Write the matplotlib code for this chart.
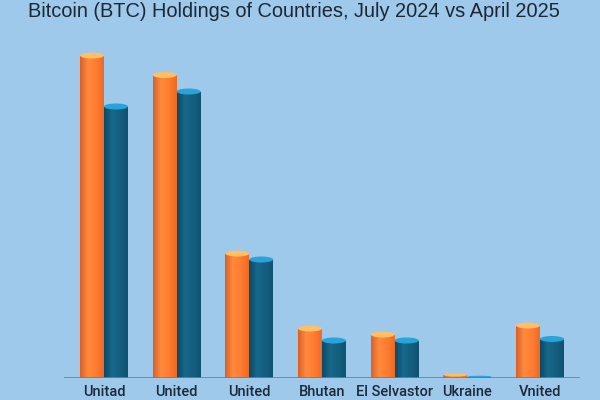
import numpy as np
import matplotlib
matplotlib.use("Agg")
import matplotlib.pyplot as plt
from matplotlib.patches import Ellipse
from matplotlib.colors import LinearSegmentedColormap

# ---- data (thousand BTC) ----
categories = ["Unitad", "United", "United", "Bhutan",
              "El Selvastor", "Ukraine", "Vnited"]
jul_2024 = [215, 202, 83, 33, 29, 2, 35]
apr_2025 = [181, 191, 79, 25, 25, 1, 26]
title = "Bitcoin (BTC) Holdings of Countries, July 2024 vs April 2025"

BG = "#9ec9eb"
fig = plt.figure(figsize=(6, 4), dpi=100, facecolor=BG)
ax = fig.add_axes([64 / 600, 22 / 400, 516 / 600, 348 / 400])
ax.set_facecolor(BG)

x = np.arange(len(categories))
w = 0.33

orange_cmap = LinearSegmentedColormap.from_list(
    "o", ["#d9612a", "#ff8a3c", "#ff7d30", "#ee6a26"])
teal_cmap = LinearSegmentedColormap.from_list(
    "t", ["#0d4a66", "#17698a", "#145f7f", "#0f5370"])

grad = np.linspace(0, 1, 64).reshape(1, -1)


def draw_bars(xs, vals, cmap, base, cap):
    bars = ax.bar(xs, vals, width=w, color=base, zorder=2, linewidth=0)
    for b in bars:
        x0, h, bw = b.get_x(), b.get_height(), b.get_width()
        im = ax.imshow(grad, extent=[x0, x0 + bw, 0, h], aspect="auto",
                       cmap=cmap, zorder=3, interpolation="bicubic")
        im.set_clip_path(b)
        capH = min(4.0, max(h, 0.8))
        ax.add_patch(Ellipse((x0 + bw / 2, h), bw, capH, facecolor=cap,
                             edgecolor="none", zorder=4))


draw_bars(x - w / 2, jul_2024, orange_cmap, "#f77b30", "#ffbf66")
draw_bars(x + w / 2, apr_2025, teal_cmap, "#135e7c", "#2aa3d8")

ax.set_xlim(-0.55, 6.55)
ax.set_ylim(0, 232)
ax.set_aspect("auto")

for s in ax.spines.values():
    s.set_visible(False)
ax.axhline(0, color="#6b8194", lw=1.2, zorder=5)
ax.set_yticks([])
ax.set_xticks(x)
ax.set_xticklabels(categories, fontsize=10.5, color="#1b2a3b",
                   family=["Roboto", "DejaVu Sans"], fontweight="medium")
ax.tick_params(axis="x", length=0, pad=5)

fig.text(0.49, 0.996, title, ha="center", va="top", fontsize=14.4,
         color="#1c2733", family=["Liberation Sans", "DejaVu Sans"])

fig.savefig("out.png", dpi=100, facecolor=BG)
